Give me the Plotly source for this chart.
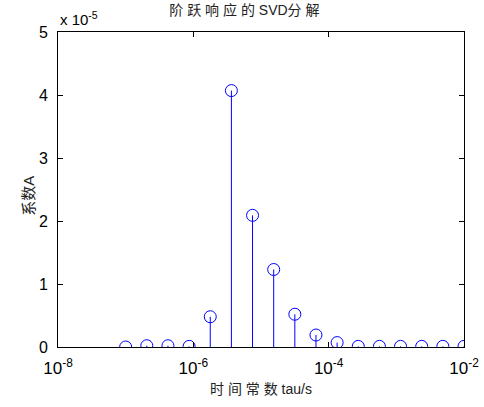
import numpy as np
import plotly.graph_objects as go

# time constants (s) and coefficients (units of 1e-5)
tau = np.logspace(-7, -2, 17)
coef = [0.0, 0.02, 0.02, 0.01, 0.48, 4.07, 2.09, 1.23, 0.52, 0.19, 0.07,
        0.01, 0.01, 0.01, 0.01, 0.01, 0.01]
xtick_vals = [1e-8, 1e-6, 1e-4, 1e-2]
xtick_text = ["10<sup>-8</sup>", "10<sup>-6</sup>", "10<sup>-4</sup>", "10<sup>-2</sup>"]
ytick_vals = [0, 1, 2, 3, 4, 5]

stem_x, stem_y = [], []
for t, c in zip(tau, coef):
    stem_x += [t, t, None]
    stem_y += [0, c, None]

BLUE = "rgb(0,0,255)"
fig = go.Figure()
fig.add_trace(go.Scatter(x=stem_x, y=stem_y, mode="lines",
                         line=dict(color=BLUE, width=1), hoverinfo="skip",
                         showlegend=False))
fig.add_trace(go.Scatter(x=tau, y=coef, mode="markers",
                         marker=dict(symbol="circle-open", size=12,
                                     color=BLUE, line=dict(width=1, color=BLUE)),
                         showlegend=False))

font = "Liberation Sans, Arial, Noto Sans CJK SC"
fig.update_layout(
    width=484, height=407,
    margin=dict(l=58, r=20, t=32, b=60, autoexpand=False),
    paper_bgcolor="white", plot_bgcolor="white",
    font=dict(family=font, color="black", size=15),
    title=dict(text="阶 跃 响 应 的 SVD分 解", x=0.505, xanchor="center",
               y=0.975, yanchor="middle",
               font=dict(size=14, color="#222", family=font)),
    xaxis=dict(type="log", range=[-8, -2], tickvals=xtick_vals, ticktext=xtick_text,
               ticks="inside", ticklen=5, tickcolor="black", showline=True,
               linecolor="black", linewidth=1, mirror="ticks", showgrid=False,
               zeroline=False, tickfont=dict(size=17), automargin=False,
               ticklabelstandoff=6,
               title=dict(text="时 间 常 数 tau/s", font=dict(size=14, color="#222"),
                          standoff=6)),
    yaxis=dict(range=[0, 5], tickvals=ytick_vals, ticks="inside", ticklen=5,
               tickcolor="black", showline=True, linecolor="black", linewidth=1,
               mirror="ticks", showgrid=False, zeroline=False,
               tickfont=dict(size=16), automargin=False, ticklabelstandoff=6),
    annotations=[
        dict(text="x 10<sup>-5</sup>", xref="paper", yref="paper",
             x=0.0, y=1.0, xanchor="left", yanchor="bottom", yshift=2,
             showarrow=False, font=dict(size=15, color="black")),
        dict(text="系数A", xref="paper", yref="paper", x=0.0, y=0.48,
             xanchor="center", yanchor="middle", xshift=-29,
             textangle=-90, showarrow=False, font=dict(size=15, color="#222")),
    ],
)
fig.write_html("out.html")
